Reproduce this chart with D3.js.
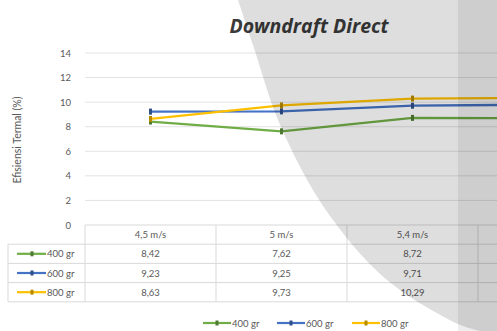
<!DOCTYPE html>
<html>
<head>
<meta charset="utf-8">
<script src="https://cdn.jsdelivr.net/npm/d3@7/dist/d3.min.js"></script>
<style>
  html, body { margin: 0; padding: 0; background: #fff; }
  svg { display: block; font-family: Lato, "Open Sans", sans-serif; }
</style>
</head>
<body>
<svg id="chart" width="497" height="331"></svg>
<script>
// Wind speed categories (the fourth column runs past the right edge)
const categories = ["4,5 m/s", "5 m/s", "5,4 m/s", "5,8 m/s"];
const seriesNames = ["400 gr", "600 gr", "800 gr"];
const values400 = [8.42, 7.62, 8.72, 8.69];
const values600 = [9.23, 9.25, 9.71, 9.80];
const values800 = [8.63, 9.73, 10.29, 10.35];
const yTicks = [0, 2, 4, 6, 8, 10, 12, 14];
const colors = ["#70AD47", "#4472C4", "#FFC000"];
const markerColors = ["#4f7a33", "#2f4f8a", "#b88a00"];

const series = seriesNames.map((name, i) => ({
  name,
  values: [values400, values600, values800][i],
  color: colors[i],
  marker: markerColors[i]
}));

const svg = d3.select("#chart");
const W = 497, H = 331;

const locale = d3.formatLocale({ decimal: ",", thousands: ".", grouping: [3], currency: ["", ""] });
const fmt = locale.format(".2f");

const x = d3.scaleBand().domain(categories).range([85, 85 + 131 * categories.length]);
const cx = c => x(c) + x.bandwidth() / 2;
const y = d3.scaleLinear().domain([0, 14]).range([225, 53]);
// only the columns whose centre falls inside the frame get table text
const shownCols = categories.map((c, j) => j).filter(j => cx(categories[j]) < W);

// Title
svg.append("text")
  .attr("x", 309).attr("y", 33)
  .attr("text-anchor", "middle")
  .attr("font-size", 19.5).attr("font-weight", "bold").attr("font-style", "italic")
  .attr("font-family", "'Open Sans', Lato, sans-serif")
  .attr("fill", "#3a3a3a")
  .text("Downdraft Direct");

// Gridlines
svg.append("g").selectAll("line").data(yTicks.filter(t => t > 0)).join("line")
  .attr("x1", 85).attr("x2", W)
  .attr("y1", d => y(d)).attr("y2", d => y(d))
  .attr("stroke", "#e3e3e3").attr("stroke-width", 1);

// Y axis
const yAxis = svg.append("g").attr("transform", "translate(85,0)")
  .call(d3.axisLeft(y).tickValues(yTicks).tickSize(0).tickPadding(14));
yAxis.select(".domain").remove();
yAxis.selectAll("text").attr("fill", "#595959").attr("font-size", 9.5)
  .attr("font-family", "Lato, 'Open Sans', sans-serif");

svg.append("text")
  .attr("transform", "translate(21,140) rotate(-90)")
  .attr("text-anchor", "middle")
  .attr("font-size", 10.5).attr("fill", "#595959")
  .text("Efisiensi Termal (%)");

// Data table below the plot
const rowH = 19.2;
const tableTop = 225;
const tbl = svg.append("g").attr("stroke", "#d9d9d9").attr("stroke-width", 1);
tbl.append("line").attr("x1", 85).attr("x2", W).attr("y1", tableTop).attr("y2", tableTop);
[1, 2, 3, 4].forEach(i => {
  const yy = tableTop + i * rowH;
  tbl.append("line").attr("x1", 8).attr("x2", W).attr("y1", yy).attr("y2", yy);
});
tbl.append("line").attr("x1", 8).attr("x2", 8).attr("y1", tableTop + rowH).attr("y2", tableTop + 4 * rowH);
tbl.selectAll(".v").data(categories.map(c => x(c))).join("line")
  .attr("x1", d => d).attr("x2", d => d)
  .attr("y1", tableTop).attr("y2", tableTop + 4 * rowH);

// Header row
svg.append("g").selectAll("text").data(shownCols).join("text")
  .attr("x", j => cx(categories[j])).attr("y", tableTop + rowH / 2 + 3.5)
  .attr("text-anchor", "middle").attr("font-size", 9.5).attr("fill", "#595959")
  .text(j => categories[j]);

// Value rows with legend keys
series.forEach((s, i) => {
  const yy = tableTop + (i + 1) * rowH + rowH / 2;
  const g = svg.append("g");
  g.append("line").attr("x1", 17).attr("x2", 46).attr("y1", yy).attr("y2", yy)
    .attr("stroke", s.color).attr("stroke-width", 2.2);
  g.append("rect").attr("x", 30.5).attr("y", yy - 2.5).attr("width", 3).attr("height", 5)
    .attr("fill", s.marker);
  g.append("text").attr("x", 47).attr("y", yy + 3.5).attr("font-size", 9.5).attr("fill", "#595959")
    .text(s.name);
  g.selectAll(".v").data(shownCols).join("text")
    .attr("x", j => cx(categories[j])).attr("y", yy + 3.5)
    .attr("text-anchor", "middle").attr("font-size", 9.5).attr("fill", "#595959")
    .text(j => fmt(s.values[j]));
});

// Lines
const line = d3.line().x((d, j) => cx(categories[j])).y(d => y(d));
series.forEach(s => {
  svg.append("path").datum(s.values)
    .attr("d", line).attr("fill", "none")
    .attr("stroke", s.color).attr("stroke-width", 2.3);
  svg.append("g").selectAll("rect").data(s.values).join("rect")
    .attr("x", (d, j) => cx(categories[j]) - 1.5).attr("y", d => y(d) - 3)
    .attr("width", 3).attr("height", 6).attr("fill", s.marker);
});

// Bottom legend
const legendItems = [
  { s: series[0], x0: 203 },
  { s: series[1], x0: 277 },
  { s: series[2], x0: 352 }
];
legendItems.forEach(({ s, x0 }) => {
  const yy = 323;
  const g = svg.append("g");
  g.append("line").attr("x1", x0).attr("x2", x0 + 28).attr("y1", yy).attr("y2", yy)
    .attr("stroke", s.color).attr("stroke-width", 2.2);
  g.append("rect").attr("x", x0 + 12.5).attr("y", yy - 2.5).attr("width", 3).attr("height", 5)
    .attr("fill", s.marker);
  g.append("text").attr("x", x0 + 29).attr("y", yy + 3.5).attr("font-size", 9.5).attr("fill", "#595959")
    .text(s.name);
});

// Curled-page shading over the right side
const curve = [[238, 0], [253, 45], [278, 120], [313, 190], [339, 228], [364, 258],
               [387, 280], [410, 297], [435, 312], [460, 325], [480, 331]];
const curvePath = d3.line().curve(d3.curveCatmullRom)(curve);
svg.append("path")
  .attr("d", curvePath + ` L${W},${H} L${W},0 Z`)
  .attr("fill", "#000").attr("fill-opacity", 0.13);
svg.append("rect").attr("x", 458).attr("y", 0).attr("width", W - 458).attr("height", H)
  .attr("fill", "#000").attr("fill-opacity", 0.07);
</script>
</body>
</html>
